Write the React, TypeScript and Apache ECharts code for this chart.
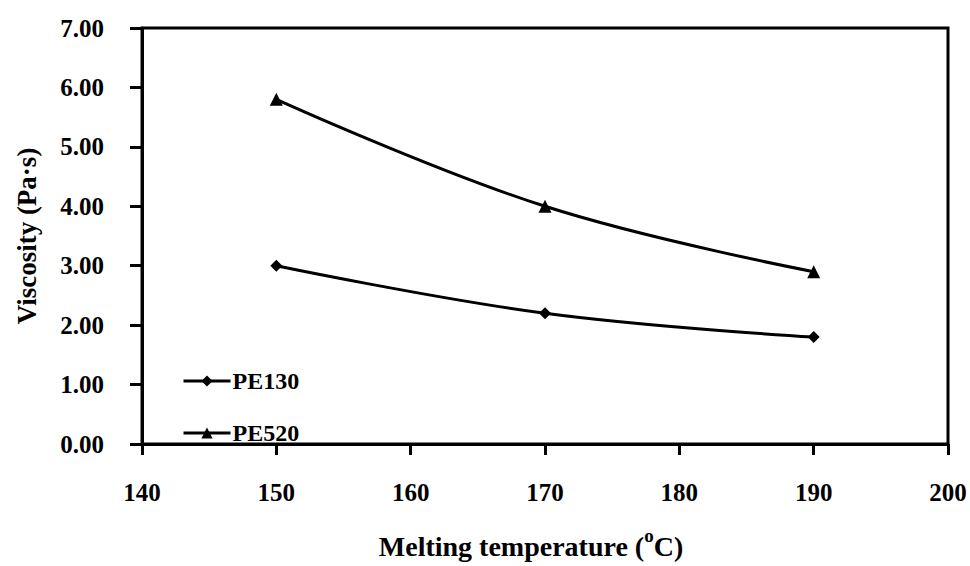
import React, { useEffect, useRef } from "react";
import * as echarts from "echarts";

const temperatures = [150, 170, 190];
const pe130 = [3.0, 2.2, 1.8];
const pe520 = [5.8, 4.0, 2.9];
const seriesNames = ["PE130", "PE520"];

const FONT = "'Liberation Serif', 'Times New Roman', serif";

export default function App() {
  const ref = useRef<HTMLDivElement>(null);
  useEffect(() => {
    if (!ref.current) return;
    const chart = echarts.init(ref.current, null, { renderer: "svg" });
    const mk = (vals: number[]) => temperatures.map((t, i) => [t, vals[i]]);
    chart.setOption({
      animation: false,
      backgroundColor: "#fff",
      grid: {
        left: 142,
        right: 22,
        top: 28,
        bottom: 122,
        show: true,
        borderColor: "#000",
        borderWidth: 3,
        containLabel: false,
        outerBoundsMode: "none",
      },
      legend: {
        orient: "vertical",
        left: 182,
        top: 369,
        padding: 0,
        itemWidth: 47,
        itemHeight: 14,
        itemGap: 28,
        lineStyle: { width: 3 },
        textStyle: {
          fontFamily: FONT,
          fontWeight: "bold",
          fontSize: 24,
          color: "#000",
          padding: [0, 0, 0, -3],
        },
        data: seriesNames,
      },
      xAxis: {
        type: "value",
        min: 140,
        max: 200,
        interval: 10,
        name: "Melting temperature ({sup|o}C)",
        nameLocation: "middle",
        nameGap: 82,
        nameTextStyle: {
          fontFamily: FONT,
          fontWeight: "bold",
          fontSize: 28,
          lineHeight: 40,
          color: "#000",
          padding: [0, 28, 0, 0],
          rich: {
            sup: {
              fontFamily: FONT,
              fontWeight: "bold",
              fontSize: 19,
              lineHeight: 19,
              color: "#000",
              verticalAlign: "top",
            },
          },
        },
        axisLine: { show: true, lineStyle: { color: "#000", width: 3 } },
        axisTick: { show: true, inside: false, length: 11, lineStyle: { color: "#000", width: 3 } },
        axisLabel: {
          margin: 36,
          fontFamily: FONT,
          fontWeight: "bold",
          fontSize: 25,
          color: "#000",
        },
        splitLine: { show: false },
      },
      yAxis: {
        type: "value",
        min: 0,
        max: 7,
        interval: 1,
        name: "Viscosity (Pa·s)",
        nameLocation: "middle",
        nameGap: 102,
        nameTextStyle: { fontFamily: FONT, fontWeight: "bold", fontSize: 27, color: "#000" },
        axisLine: { show: true, lineStyle: { color: "#000", width: 3 } },
        axisTick: { show: true, inside: false, length: 12, lineStyle: { color: "#000", width: 3 } },
        axisLabel: {
          margin: 38,
          fontFamily: FONT,
          fontWeight: "bold",
          fontSize: 25,
          color: "#000",
          formatter: (v: number) => v.toFixed(2),
        },
        splitLine: { show: false },
      },
      series: [
        {
          name: seriesNames[0],
          type: "line",
          data: mk(pe130),
          smooth: 0.4,
          symbol: "diamond",
          symbolSize: 12,
          itemStyle: { color: "#000" },
          lineStyle: { color: "#000", width: 3 },
        },
        {
          name: seriesNames[1],
          type: "line",
          data: mk(pe520),
          smooth: 0.4,
          symbol: "triangle",
          symbolSize: 13,
          itemStyle: { color: "#000" },
          lineStyle: { color: "#000", width: 3 },
        },
      ],
    });
    return () => chart.dispose();
  }, []);
  return <div ref={ref} style={{ width: 970, height: 566, position: "absolute", left: 0, top: 0 }} />;
}
